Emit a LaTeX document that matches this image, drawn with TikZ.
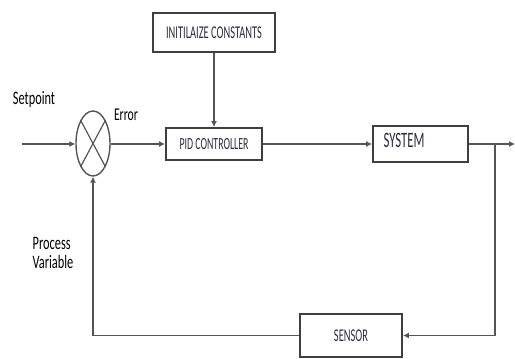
\documentclass[tikz,border=0pt]{standalone}
\usepackage{fontspec}
\setmainfont{Carlito}
\newfontfamily\boxfont{Carlito}[FakeStretch=0.58]
\newfontfamily\labelfont{Carlito}[FakeStretch=0.65]
\usetikzlibrary{shapes.geometric,arrows.meta}
\definecolor{diagline}{HTML}{555555}
\definecolor{diagbox}{HTML}{3F3F3F}
\definecolor{diagtext}{HTML}{2E2E40}

\begin{document}
\begin{tikzpicture}[
  x=1pt,
  y=-1pt,
  blk/.style={draw=diagbox, line width=1.8pt, fill=white, inner sep=0pt,
    text=diagtext, font=\boxfont\fontsize{17pt}{17pt}\selectfont},
  lbl/.style={text=black, inner sep=0pt, font=\labelfont\fontsize{19pt}{19pt}\selectfont},
  arr/.style={draw=diagline, line width=1.4pt, -{Latex[length=6pt,width=6pt]}}
]
  \useasboundingbox (0,0) rectangle (515,359);

  \node[blk, minimum width=122pt, minimum height=39pt, font=\boxfont\fontsize{18pt}{18pt}\selectfont] (init) at (214,32.5) {INITILAIZE CONSTANTS};
  \node[blk, minimum width=96pt, minimum height=32pt] (pid) at (214,144) {PID CONTROLLER};
  \node[blk, minimum width=95pt, minimum height=36pt] (sys) at (420.5,144) {};
  \node[text=diagtext, inner sep=0pt, font=\boxfont\fontsize{22pt}{22pt}\selectfont] (systxt) at (404,140) {SYSTEM};
  \node[blk, minimum width=102pt, minimum height=43pt, font=\boxfont\fontsize{18pt}{18pt}\selectfont] (sens) at (351,335.5) {SENSOR};
  \node[draw=diagline, line width=1.4pt, ellipse, minimum width=34pt, minimum height=65pt, inner sep=0pt] (sum) at (93,143.5) {};
  \draw[diagline, line width=1.2pt] (sum.north west) -- (sum.south east);
  \draw[diagline, line width=1.2pt] (sum.north east) -- (sum.south west);

  \node[lbl] (setp) at (34,99) {Setpoint};
  \node[lbl, font=\labelfont\fontsize{18pt}{18pt}\selectfont] (err) at (126,115) {Error};
  \node[lbl, align=left, font=\labelfont\fontsize{19pt}{19pt}\selectfont] (pv) at (53,253) {Process\\Variable};

  \coordinate (in) at (22,144);
  \coordinate (br) at (495,144);
  \coordinate (out) at (515,144);

  \draw[arr] (in) -- (sum.west |- in);
  \draw[arr] (sum.east |- pid.west) -- (pid.west);
  \draw[arr] (init.south) -- (pid.north);
  \draw[arr] (pid.east) -- (sys.west);
  \draw[arr] (sys.east) -- (out);
  \draw[arr] (br) |- (sens.east);
  \draw[arr] (sens.west) -| (sum.south);
\end{tikzpicture}
\end{document}
